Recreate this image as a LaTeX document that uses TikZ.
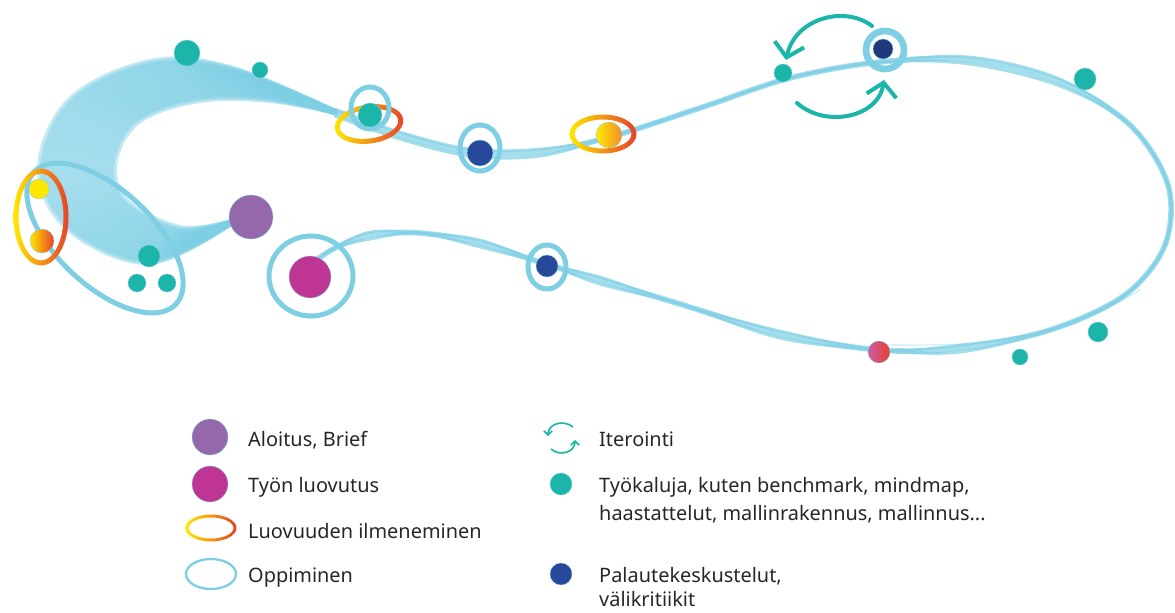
\documentclass[tikz,border=0pt]{standalone}
\usepackage{fontspec}
\setmainfont{Noto Sans}
\usetikzlibrary{arrows.meta}

\definecolor{oppi}{HTML}{7ECFE4}
\definecolor{tyokalu}{HTML}{1BB5A9}
\definecolor{palaute}{HTML}{27489B}
\definecolor{aloitus}{HTML}{9468AB}
\definecolor{luovutus}{HTML}{BE3594}
\definecolor{luovaY}{HTML}{FFE800}
\definecolor{luovaO}{HTML}{F6A12A}
\definecolor{luovaR}{HTML}{E8402B}
\definecolor{teksti}{HTML}{262626}

\tikzset{
  piste/.style={draw=oppi, line width=0.3pt},
  rengas/.style={draw=oppi, line width=0.15cm},
  polku/.style={draw=oppi, line width=0.12cm, line cap=round, opacity=0.7},
  kierto/.style={draw=tyokalu, line width=0.12cm, line cap=round,
    -{Straight Barb[length=0.4cm, width=0.9cm, line width=0.12cm]}},
  selite/.style={anchor=base west, text=teksti, inner sep=0pt,
    font=\fontsize{17}{20}\selectfont},
}

% gradient ring: center, x radius, y radius, thickness, rotation
\newcommand{\luovarengas}[5]{%
  \shade[even odd rule, left color=luovaY, middle color=luovaO, right color=luovaR,
    rotate around={#5:#1}] #1 ellipse ({#2+#4/2} and {#3+#4/2}) #1 ellipse ({#2-#4/2} and {#3-#4/2});}

\begin{document}
\begin{tikzpicture}[x=0.03cm, y=-0.03cm]
\useasboundingbox (0,0) rectangle (1175,612);

% bundle of strands round the left
\foreach \s in {0,0.04,...,1.0}
  \draw[polku, line width=0.18cm, opacity=0.45] plot[smooth, tension=0.6] coordinates {(232,222) ({180-30*\s},{228+34*\s}) ({125-55*\s},{200+30*\s}) ({115-75*\s},{160+10*\s}) ({140-70*\s},{120-20*\s}) ({200-50*\s},{100-38*\s}) ({270-40*\s},{100-32*\s}) (335,112)};

% main route
\foreach \d/\w in {0/0.17, 4/0.09, -3/0.08}
  \draw[polku, line width=\w cm] plot[smooth, tension=0.55] coordinates {(335,{112+\d}) (400,{135+\d}) (470,{152+\d}) (540,{152+\d}) (610,137) (700,108) (790,78) (880,62) (970,{60+\d}) (1060,{82+\d}) (1130,125) (1168,185) (1165,245) (1125,295) (1050,330) (960,{348+\d}) (880,350) (780,{334+\d}) (680,304) (600,{280+\d}) (546,264) (480,{243+\d}) (420,233) (370,{235+\d}) (335,248) (308,266)};
\draw[polku, line width=0.04cm, opacity=0.35] plot[smooth] coordinates {(880,345) (980,343) (1070,325) (1140,290)};

% big learning loop on the left
\draw[rengas, rotate around={-43:(105,238)}] (105,238) ellipse (97 and 48);

% creativity, left
\luovarengas{(41,217)}{25}{46}{5}{0}
\fill[luovaY, piste] (39,189) circle (10);
\shade[left color=luovaY, right color=luovaR, piste] (42,241) circle (12);

% tools
\foreach \x/\y/\r in {187/53/13, 260/70/8, 149/256/11, 137/283/9, 167/283/9,
    783/73/9, 1085/79/11, 1098/332/10, 1020/357/8}
  \fill[tyokalu, piste] (\x,\y) circle (\r);

% brief and delivery
\fill[aloitus, piste] (251,217) circle (22);
\draw[rengas] (311,276) ellipse (42 and 40);
\fill[luovutus, piste] (310,277) circle (21);

% top stations
\luovarengas{(369,124)}{32}{17}{5}{8}
\draw[rengas] (370,108) ellipse (19 and 21);
\fill[tyokalu, piste] (370,115) circle (12);
\draw[rengas] (480,148) ellipse (20 and 23);
\fill[palaute, piste] (480,153) circle (13);
\luovarengas{(603,134)}{31}{17}{5}{0}
\shade[left color=luovaY, right color=luovaO!80!luovaR, piste] (609,135) circle (13);
\draw[rengas] (547,267) ellipse (19 and 22);
\fill[palaute, piste] (547,266) circle (11);
\shade[left color=luovutus!80, right color=luovaR, piste] (879,352) circle (11);

% iteration
\draw[rengas, line width=0.2cm] (885,50) circle (19);
\fill[palaute!80!black, piste] (883,49) circle (10);
\draw[kierto] (872,26) .. controls (845,5) and (795,18) .. (786,60);
\draw[kierto] (797,103) .. controls (825,128) and (878,118) .. (884,80);

% legend
\fill[aloitus, piste] (210,437) circle (18);
\node[selite] (aloitus) at (248,446) {Aloitus, Brief};
\fill[luovutus, piste] (210,484) circle (18);
\node[selite] (luovutus) at (248,492) {Työn luovutus};
\luovarengas{(211,528)}{24}{12}{3}{0}
\node[selite] (luovuus) at (248,538) {Luovuuden ilmeneminen};
\draw[draw=oppi, line width=0.07cm] (211,574) ellipse (25 and 15);
\node[selite] (oppiminen) at (248,582) {Oppiminen};

\draw[tyokalu, line width=0.05cm, -{Straight Barb[length=0.12cm, width=0.25cm]}] (573,427) .. controls (563,419) and (548,424) .. (548,436);
\draw[tyokalu, line width=0.05cm, -{Straight Barb[length=0.12cm, width=0.25cm]}] (551,449) .. controls (560,457) and (575,452) .. (575,440);
\node[selite] (iterointi) at (599,446) {Iterointi};
\fill[tyokalu, piste] (561,484) circle (11);
\node[selite] (tyokaluja) at (599,492) {Työkaluja, kuten benchmark, mindmap,};
\node[selite] (haastattelut) at (599,520) {haastattelut, mallinrakennus, mallinnus...};
\fill[palaute, piste] (561,574) circle (11);
\node[selite] (palaute) at (599,582) {Palautekeskustelut,};
\node[selite] (valikritiikit) at (599,606) {välikritiikit};
\end{tikzpicture}
\end{document}
